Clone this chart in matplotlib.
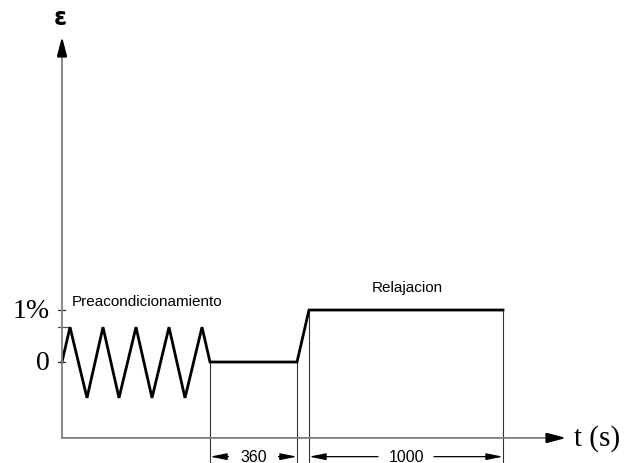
import matplotlib
matplotlib.use("Agg")
import matplotlib.pyplot as plt

# schematic strain history (time in schematic units, strain in %)
t_pts = [0, 8, 25, 41, 57, 74, 90, 107, 123, 140, 148, 235, 247, 441]
eps_pts = [0, 0.67, -0.69, 0.67, -0.69, 0.67, -0.69, 0.67, -0.69, 0.67, 0, 0, 1, 1]
ytick_vals = [0, 1]
ytick_labels = ["0", "1%"]
hold_start, hold_end = 148, 235
relax_start, relax_end = 247, 441
dim_labels = ["360", "1000"]
x_axis_level = -1.46
x_axis_end = 504
y_axis_end = 6.25
dim_level = -1.82

fig = plt.figure(figsize=(6.24, 4.64), dpi=100)
ax = fig.add_axes([0, 0, 1, 1])
ax.set_xlim(-62, 562)
ax.set_ylim(-1.942, 6.981)
ax.axis("off")

gray = "#7f7f7f"
head = "-|>,head_length=1.15,head_width=0.3"
# axes with arrows
ax.annotate("", xy=(x_axis_end, x_axis_level), xytext=(0, x_axis_level),
            arrowprops=dict(arrowstyle=head, color=gray, lw=1.3, shrinkA=0, shrinkB=0))
ax.annotate("", xy=(x_axis_end, x_axis_level), xytext=(x_axis_end - 14, x_axis_level),
            arrowprops=dict(arrowstyle=head, color="black", lw=1.3, shrinkA=0, shrinkB=0))
ax.annotate("", xy=(0, y_axis_end), xytext=(0, x_axis_level),
            arrowprops=dict(arrowstyle=head, color=gray, lw=1.3, shrinkA=0, shrinkB=0))
ax.annotate("", xy=(0, y_axis_end), xytext=(0, y_axis_end - 0.28),
            arrowprops=dict(arrowstyle=head, color="black", lw=1.3, shrinkA=0, shrinkB=0))

# ticks
for v in ytick_vals:
    ax.plot([-4, 3], [v, v], color="#333333", lw=0.9)
ax.plot([-4, 6], [max(eps_pts[1:10]), max(eps_pts[1:10])], color="#555555", lw=0.9)
for v, lab in zip(ytick_vals, ytick_labels):
    ax.text(-12, v, lab, ha="right", va="center", fontsize=20,
            family="Liberation Serif")

ax.text(-2, 6.63, "ε", ha="center", va="center", fontsize=17, fontweight="bold",
        family="DejaVu Sans")
ax.text(x_axis_end + 8, x_axis_level, "t (s)", ha="left", va="center",
        fontsize=21, family="Liberation Serif")

# extension lines
for xv, top in [(hold_start, 0), (hold_end, 0), (relax_start, 1), (relax_end, 1)]:
    ax.plot([xv, xv], [top, -1.94], color="#333333", lw=0.8)

# strain curve
ax.plot(t_pts, eps_pts, color="black", lw=2.0, solid_joinstyle="miter")

# dimension lines
def dim(x0, x1, label):
    xm = (x0 + x1) / 2
    gap = 16 + 3 * len(label)
    ap = dict(arrowstyle="-|>,head_length=1.0,head_width=0.2", color="black",
              lw=0.9, shrinkA=0, shrinkB=0)
    ax.annotate("", xy=(x0, dim_level), xytext=(xm - gap, dim_level), arrowprops=ap)
    ax.annotate("", xy=(x1, dim_level), xytext=(xm + gap, dim_level), arrowprops=ap)
    ax.text(xm, dim_level, label, ha="center", va="center", fontsize=11.5,
            family="Liberation Sans")

dim(hold_start, hold_end, dim_labels[0])
dim(relax_start, relax_end, dim_labels[1])

ax.text(10, 1.17, "Preacondicionamiento", ha="left", va="center", fontsize=11,
        family="Liberation Sans")
ax.text(345, 1.44, "Relajacion", ha="center", va="center", fontsize=11,
        family="Liberation Sans")

fig.savefig("out.png", dpi=100)
